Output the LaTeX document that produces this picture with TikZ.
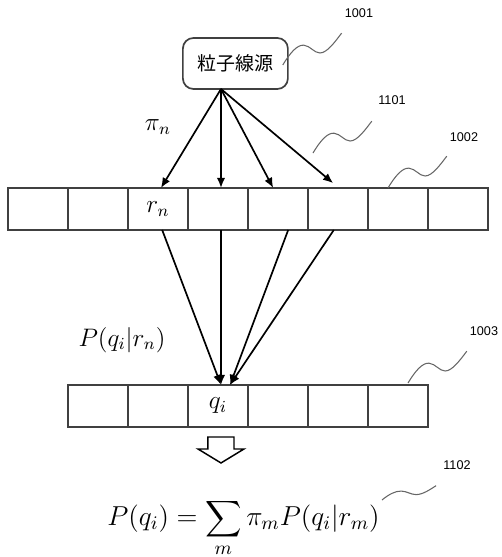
\RequirePackage{fix-cm}
\documentclass[tikz,border=0pt]{standalone}
\usepackage{fontspec}
\usepackage{amsmath}
\usetikzlibrary{arrows.meta}
\newfontfamily\cjk{Noto Sans CJK JP}
\newfontfamily\numfont{Liberation Sans}

\begin{document}
\begin{tikzpicture}[
  cell/.style={draw=black!75, line width=0.6pt, minimum width=1cm, minimum height=0.7cm, inner sep=0pt, outer sep=0pt},
  ray/.style={-{Latex[length=1.7mm,width=1.4mm]}, line width=0.8pt},
  refnum/.style={font=\numfont\fontsize{6}{7}\selectfont, inner sep=0pt},
  lbl/.style={font=\large, inner sep=0pt},
  wave/.pic={\draw[black!60, line width=0.5pt] (0,0) .. controls (0.12,0.2) and (0.24,0.34) .. (0.35,0.33) .. controls (0.46,0.32) and (0.52,0.2) .. (0.62,0.2) .. controls (0.74,0.2) and (0.88,0.4) .. (0.98,0.53);}
]
\useasboundingbox (-0.133,3.133) rectangle (8.233,-6.15);

% source
\node[draw=black!75, line width=0.8pt, rounded corners=5pt, minimum width=1.75cm, minimum height=0.85cm, font=\cjk\fontsize{9}{11}\selectfont] (src) at (3.79,2.075) {粒子線源};
\coordinate (emit) at (3.55,1.65);

% detector rows
\foreach \i in {0,...,7} \node[cell] (u\i) at (\i+0.5,-0.35) {};
\foreach \j in {0,...,5} \node[cell] (l\j) at (\j+1.5,-3.633) {};
\node[lbl] (rn) at (u2) {$r_n$};
\node[lbl] (qi) at (l2) {$q_i$};

% rays
\foreach \t/\dx/\dy in {u2/0.05/0,u3/0.05/0,u4/-0.08/0,u5/-0.08/0.08}
  \draw[ray] (emit) -- ([xshift=\dx cm, yshift=\dy cm]\t.north);
\draw[ray] ([xshift=0.07cm]u2.south) -- ([xshift=0.05cm]l2.north);
\draw[ray] ([xshift=0.05cm]u3.south) -- ([xshift=0.05cm]l2.north);
\draw[ray] ([xshift=0.17cm]u4.south) -- ([xshift=0.2cm]l2.north);
\draw[ray] ([xshift=-0.07cm]u5.south) -- ([xshift=0.2cm]l2.north);

\node[lbl] (pin) at (2.5,1.017) {$\pi_n$};
\node[lbl] (plik) at (1.9,-2.53) {$P(q_i|r_n)$};

% hollow arrow
\draw[line width=0.7pt] (3.333,-4.15) -- (3.767,-4.15) -- (3.767,-4.35) -- (3.933,-4.35)
  -- (3.55,-4.583) -- (3.167,-4.35) -- (3.333,-4.35) -- cycle;

\node[inner sep=0pt, anchor=west, font=\fontsize{13}{16}\selectfont] (total) at (1.65,-5.66) {$\displaystyle P(q_i)=\sum_m \pi_m P(q_i|r_m)$};

% reference numbers
\node[refnum] (n1001) at (5.85,2.917) {1001};
\node[refnum] (n1101) at (6.4,1.467) {1101};
\node[refnum] (n1002) at (7.6,0.85) {1002};
\node[refnum] (n1003) at (7.933,-2.383) {1003};
\node[refnum] (n1102) at (7.483,-4.617) {1102};
\pic at (4.58,2.05) {wave};
\pic at (5.083,0.583) {wave};
\pic at (6.333,0) {wave};
\pic at (6.667,-3.25) {wave};
\pic[xscale=0.92,yscale=0.45] at (6.233,-5.2) {wave};

\end{tikzpicture}
\end{document}
